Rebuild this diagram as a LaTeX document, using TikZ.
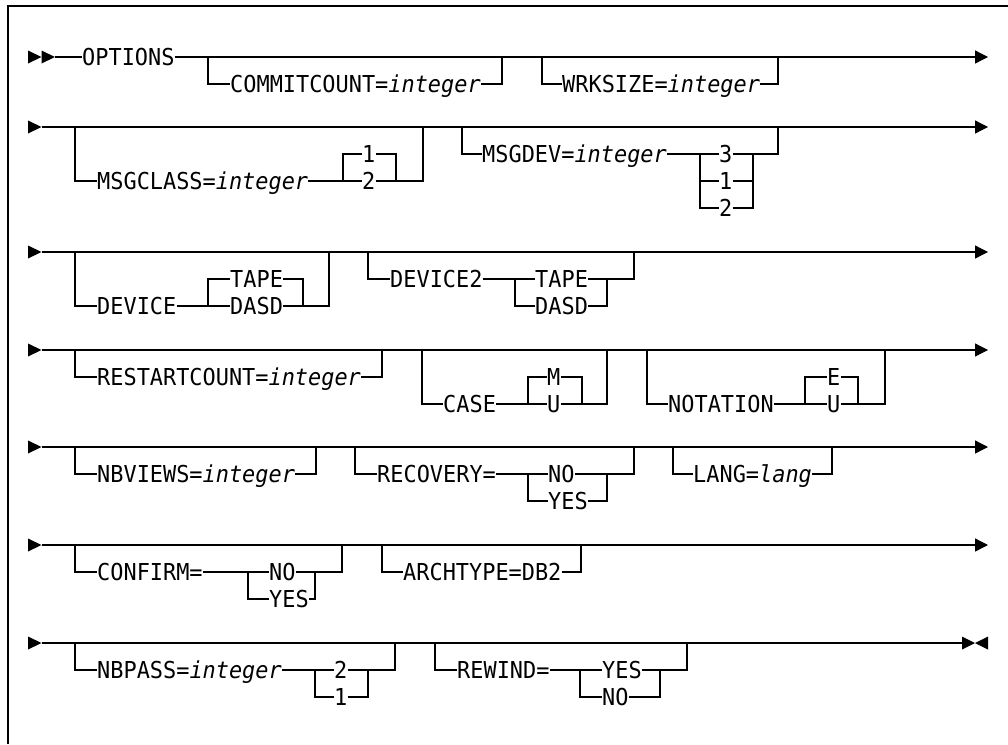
\documentclass[tikz,border=0pt]{standalone}
\usepackage{fontspec}
\setmonofont{DejaVu Sans Mono}[ItalicFont={DejaVu Sans Mono Oblique}, FakeStretch=0.94]
\usetikzlibrary{arrows.meta}
\newcommand{\synfont}{\ttfamily\fontsize{23.3}{28}\selectfont}

\begin{document}
\begin{tikzpicture}[x=1pt, y=-1pt,
    kw/.style={font=\synfont, anchor=west, inner sep=0pt, text height=17pt, text depth=0pt},
    rail/.style={line width=1.3pt},
    railend/.style={rail, -{Triangle[length=13pt,width=13pt]}},
    tri/.style={fill=black}]
  \useasboundingbox (0,0) rectangle (1008,744);
  \fill[white] (0,0) rectangle (1008,744);
  % Frame
  \draw[rail] (8,744) -- (8,6) -- (1008,6);

  % Row 1
  \fill[tri] (28,50.5) -- (41.5,57) -- (28,63.5) -- cycle;
  \fill[tri] (41.5,50.5) -- (55,57) -- (41.5,63.5) -- cycle;
  \coordinate (s1) at (55,57);
  \coordinate (e1) at (988,57);
  \node[kw] (opt) at (82,57) {OPTIONS};
  \draw[rail] (s1) -- (opt.west);
  \draw[railend] (opt.east) -- (e1);
  \node[kw] (cc) at (230,84) {COMMITCOUNT=\textit{integer}};
  \draw[rail] (208,57) |- (cc.west);
  \draw[rail] (cc.east) -| (502,57);
  \node[kw] (wrk) at (562,84) {WRKSIZE=\textit{integer}};
  \draw[rail] (542,57) |- (wrk.west);
  \draw[rail] (wrk.east) -| (778,57);

  % Row 2
  \fill[tri] (28,120.5) -- (41.5,127) -- (28,133.5) -- cycle;
  \coordinate (s2) at (41.5,127);
  \coordinate (e2) at (988,127);
  \draw[railend] (s2) -- (e2);
  \node[kw] (mcl) at (97,181) {MSGCLASS=\textit{integer}};
  \node[kw] (mcl1) at (362,154) {1};
  \node[kw] (mcl2) at (362,181) {2};
  \draw[rail] (75,127) |- (mcl.west);
  \draw[rail] (mcl.east) -- (mcl2.west);
  \draw[rail] (343,181) |- (mcl1.west);
  \draw[rail] (mcl1.east) -| (396,181);
  \draw[rail] (mcl2.east) -| (423,127);
  \node[kw] (mdv) at (482,154) {MSGDEV=\textit{integer}};
  \node[kw] (mdv3) at (719,154) {3};
  \node[kw] (mdv1) at (719,181) {1};
  \node[kw] (mdv2) at (719,208) {2};
  \draw[rail] (462,127) |- (mdv.west);
  \draw[rail] (mdv.east) -- (mdv3.west);
  \draw[rail] (700,154) |- (mdv2.west);
  \draw[rail] (700,181) -- (mdv1.west);
  \draw[rail] (mdv2.east) -| (753,154);
  \draw[rail] (mdv1.east) -- (753,181);
  \draw[rail] (mdv3.east) -| (778,127);

  % Row 3
  \fill[tri] (28,245.5) -- (41.5,252) -- (28,258.5) -- cycle;
  \coordinate (s3) at (41.5,252);
  \coordinate (e3) at (988,252);
  \draw[railend] (s3) -- (e3);
  \node[kw] (dev) at (97,306) {DEVICE};
  \node[kw] (tape1) at (230,279) {TAPE};
  \node[kw] (dasd1) at (230,306) {DASD};
  \draw[rail] (75,252) |- (dev.west);
  \draw[rail] (dev.east) -- (dasd1.west);
  \draw[rail] (208,306) |- (tape1.west);
  \draw[rail] (tape1.east) -| (303,306);
  \draw[rail] (dasd1.east) -| (329,252);
  \node[kw] (devb) at (390,279) {DEVICE2};
  \node[kw] (tape2) at (535,279) {TAPE};
  \node[kw] (dasd2) at (535,306) {DASD};
  \draw[rail] (368,252) |- (devb.west);
  \draw[rail] (devb.east) -- (tape2.west);
  \draw[rail] (515,279) |- (dasd2.west);
  \draw[rail] (dasd2.east) -| (607,279);
  \draw[rail] (tape2.east) -| (634,252);

  % Row 4
  \fill[tri] (28,343.5) -- (41.5,350) -- (28,356.5) -- cycle;
  \coordinate (s4) at (41.5,350);
  \coordinate (e4) at (988,350);
  \draw[railend] (s4) -- (e4);
  \node[kw] (rst) at (97,377) {RESTARTCOUNT=\textit{integer}};
  \draw[rail] (75,350) |- (rst.west);
  \draw[rail] (rst.east) -| (382,350);
  \node[kw] (cas) at (443,404) {CASE};
  \node[kw] (casm) at (547,377) {M};
  \node[kw] (casu) at (547,404) {U};
  \draw[rail] (422,350) |- (cas.west);
  \draw[rail] (cas.east) -- (casu.west);
  \draw[rail] (528,404) |- (casm.west);
  \draw[rail] (casm.east) -| (582,404);
  \draw[rail] (casu.east) -| (607,350);
  \node[kw] (not) at (668,404) {NOTATION};
  \node[kw] (note) at (827,377) {E};
  \node[kw] (notu) at (827,404) {U};
  \draw[rail] (647,350) |- (not.west);
  \draw[rail] (not.east) -- (notu.west);
  \draw[rail] (805,404) |- (note.west);
  \draw[rail] (note.east) -| (858,404);
  \draw[rail] (notu.east) -| (885,350);

  % Row 5
  \fill[tri] (28,440.5) -- (41.5,447) -- (28,453.5) -- cycle;
  \coordinate (s5) at (41.5,447);
  \coordinate (e5) at (988,447);
  \draw[railend] (s5) -- (e5);
  \node[kw] (nbv) at (97,474) {NBVIEWS=\textit{integer}};
  \draw[rail] (75,447) |- (nbv.west);
  \draw[rail] (nbv.east) -| (316,447);
  \node[kw] (rec) at (377,474) {RECOVERY=};
  \node[kw] (recno) at (548,474) {NO};
  \node[kw] (recyes) at (548,501) {YES};
  \draw[rail] (355,447) |- (rec.west);
  \draw[rail] (rec.east) -- (recno.west);
  \draw[rail] (528,474) |- (recyes.west);
  \draw[rail] (recyes.east) -| (607,474);
  \draw[rail] (recno.east) -| (634,447);
  \node[kw] (lng) at (693,474) {LANG=\textit{lang}};
  \draw[rail] (673,447) |- (lng.west);
  \draw[rail] (lng.east) -| (832,447);

  % Row 6
  \fill[tri] (28,538.5) -- (41.5,545) -- (28,551.5) -- cycle;
  \coordinate (s6) at (41.5,545);
  \coordinate (e6) at (988,545);
  \draw[railend] (s6) -- (e6);
  \node[kw] (cnf) at (97,572) {CONFIRM=};
  \node[kw] (cnfno) at (269,572) {NO};
  \node[kw] (cnfyes) at (269,599) {YES};
  \draw[rail] (75,545) |- (cnf.west);
  \draw[rail] (cnf.east) -- (cnfno.west);
  \draw[rail] (248,572) |- (cnfyes.west);
  \draw[rail] (cnfyes.east) -| (315,572);
  \draw[rail] (cnfno.east) -| (342,545);
  \node[kw] (arc) at (403,572) {ARCHTYPE=DB2};
  \draw[rail] (382,545) |- (arc.west);
  \draw[rail] (arc.east) -| (581,545);

  % Row 7
  \fill[tri] (28,636.5) -- (41.5,643) -- (28,649.5) -- cycle;
  \coordinate (s7) at (41.5,643);
  \coordinate (e7) at (962,643);
  \draw[rail] (s7) -- (e7);
  \fill[tri] (962,636.5) -- (975,643) -- (962,649.5) -- cycle;
  \fill[tri] (988,636.5) -- (975,643) -- (988,649.5) -- cycle;
  \node[kw] (nbp) at (97,670) {NBPASS=\textit{integer}};
  \node[kw] (nbp2) at (334,670) {2};
  \node[kw] (nbp1) at (334,697) {1};
  \draw[rail] (75,643) |- (nbp.west);
  \draw[rail] (nbp.east) -- (nbp2.west);
  \draw[rail] (315,670) |- (nbp1.west);
  \draw[rail] (nbp1.east) -| (368,670);
  \draw[rail] (nbp2.east) -| (395,643);
  \node[kw] (rew) at (457,670) {REWIND=};
  \node[kw] (rewyes) at (602,670) {YES};
  \node[kw] (rewno) at (602,697) {NO};
  \draw[rail] (435,643) |- (rew.west);
  \draw[rail] (rew.east) -- (rewyes.west);
  \draw[rail] (580,670) |- (rewno.west);
  \draw[rail] (rewno.east) -| (660,670);
  \draw[rail] (rewyes.east) -| (687,643);
\end{tikzpicture}
\end{document}
